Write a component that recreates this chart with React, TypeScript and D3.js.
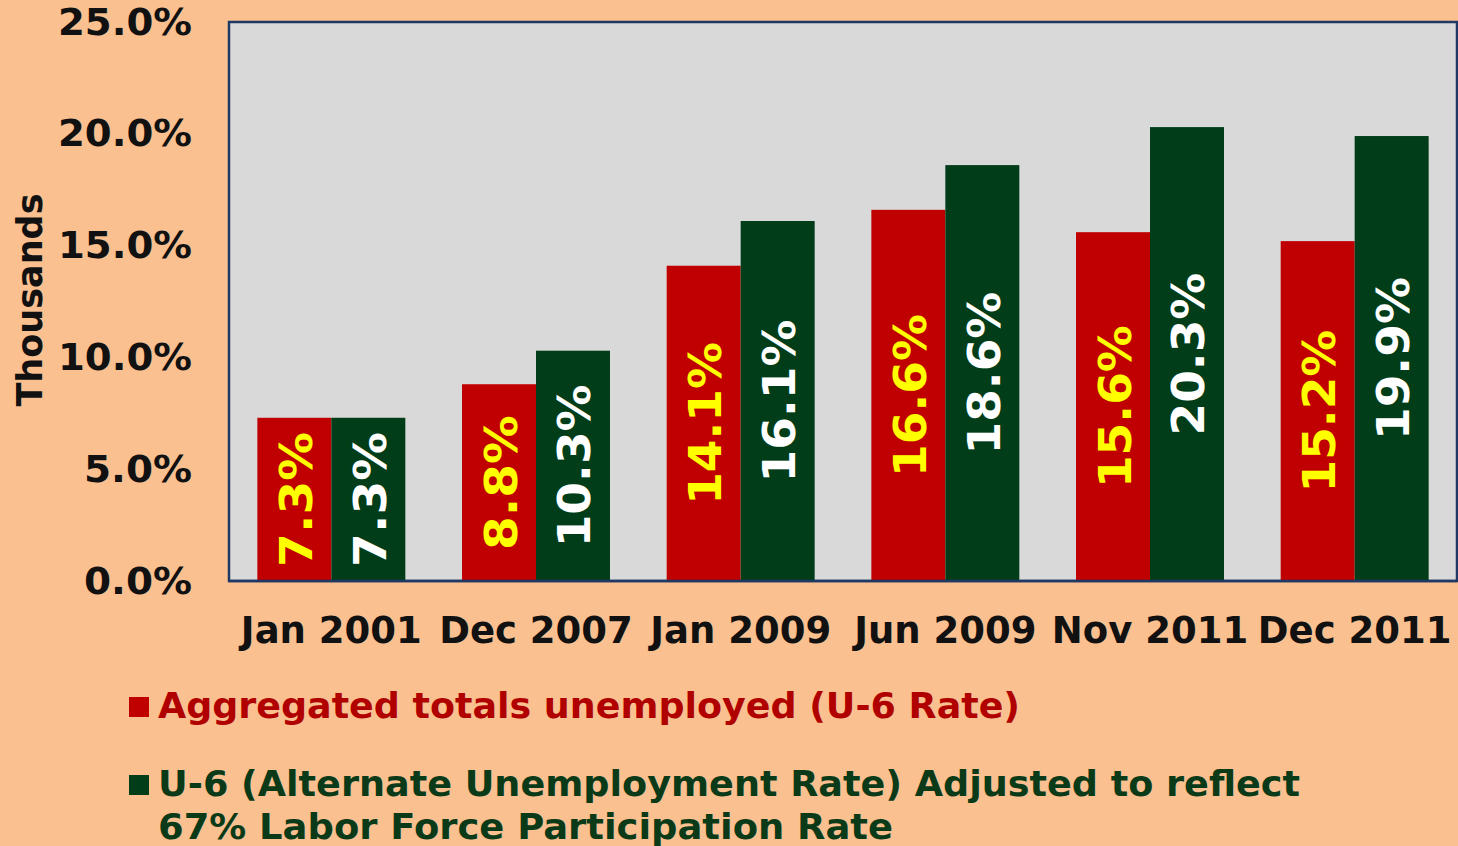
import React from "react";
import * as d3 from "d3";

const categories = ["Jan 2001", "Dec 2007", "Jan 2009", "Jun 2009", "Nov 2011", "Dec 2011"];
const u6Values = [7.3, 8.8, 14.1, 16.6, 15.6, 15.2];
const adjValues = [7.3, 10.3, 16.1, 18.6, 20.3, 19.9];
const yTicks = [0, 5, 10, 15, 20, 25];
const seriesKeys = ["u6", "adj"];
const seriesNames = [
  ["Aggregated totals unemployed (U-6 Rate)"],
  ["U-6 (Alternate Unemployment Rate) Adjusted to reflect", "67% Labor Force Participation Rate"],
];

const W = 1458;
const H = 846;
const FONT = "'DejaVu Sans', Verdana, sans-serif";
const BG = "#FAC090";
const RED = "#C00000";
const GREEN = "#003D18";
const NAVY = "#1F3864";

export default function App() {
  const plot = { left: 229, right: 1457, top: 22, bottom: 581 };
  const y = d3.scaleLinear().domain([0, 25]).range([plot.bottom, plot.top]);
  const x = d3
    .scaleBand<string>()
    .domain(categories)
    .range([plot.left, plot.right])
    .paddingInner(0.277)
    .paddingOuter(0.1385);
  const xs = d3.scaleBand<string>().domain(seriesKeys).range([0, x.bandwidth()]);
  const fmt = (v: number) => d3.format(".1f")(v) + "%";

  const data = categories.map((c, i) => ({ c, vals: [u6Values[i], adjValues[i]] }));
  const fills = [RED, GREEN];
  const labelFills = ["#FFFF00", "#FFFFFF"];
  const legendColors = [RED, GREEN];
  const legendTextColors = ["#B00000", "#0A3A17"];
  const legendLens = [[862], [1142, 735]];
  const legendY = [[718], [796, 839]];

  return (
    <svg
      width={W}
      height={H}
      style={{ position: "absolute", left: 0, top: 0, background: BG }}
      fontFamily={FONT}
      fontWeight="bold"
    >
      <rect x={0} y={0} width={W} height={H} fill={BG} />
      <rect
        x={plot.left}
        y={plot.top}
        width={plot.right - plot.left}
        height={plot.bottom - plot.top}
        fill="#D9D9D9"
        stroke={NAVY}
        strokeWidth={2.5}
      />
      {data.map((d) => (
        <g key={d.c} transform={`translate(${x(d.c)},0)`}>
          {d.vals.map((v, j) => {
            const bx = xs(seriesKeys[j])!;
            const bw = xs.bandwidth();
            const top = y(v);
            const s = fmt(v);
            return (
              <g key={j}>
                <rect x={bx} y={top} width={bw} height={y(0) - top} fill={fills[j]} />
                <text
                  transform={`translate(${bx + bw / 2 + 2},${(top + y(0)) / 2}) rotate(-90)`}
                  textAnchor="middle"
                  dominantBaseline="central"
                  fontSize={45}
                  fill={labelFills[j]}
                  textLength={28 * s.length + 23}
                  lengthAdjust="spacingAndGlyphs"
                >
                  {s}
                </text>
              </g>
            );
          })}
        </g>
      ))}
      <line x1={plot.left} x2={plot.right} y1={plot.bottom} y2={plot.bottom} stroke={NAVY} strokeWidth={2.5} />
      {yTicks.map((t) => {
        const s = fmt(t);
        return (
          <text
            key={t}
            x={192}
            y={y(t)}
            textAnchor="end"
            dominantBaseline="central"
            fontSize={37}
            fill="#111"
            textLength={26 * s.length + 4}
            lengthAdjust="spacingAndGlyphs"
          >
            {s}
          </text>
        );
      })}
      {categories.map((c) => (
        <text
          key={c}
          x={x(c)! + x.bandwidth() / 2}
          y={630}
          textAnchor="middle"
          dominantBaseline="central"
          fontSize={37}
          fill="#111"
        >
          {c}
        </text>
      ))}
      <text
        transform={`translate(30,300) rotate(-90)`}
        textAnchor="middle"
        dominantBaseline="central"
        fontSize={35}
        fill="#111"
      >
        Thousands
      </text>
      {seriesNames.map((lines, i) => (
        <g key={i}>
          <rect x={129} y={legendY[i][0] - 21} width={20} height={20} fill={legendColors[i]} />
          {lines.map((l, k) => (
            <text
              key={k}
              x={158}
              y={legendY[i][k]}
              fontSize={36}
              fill={legendTextColors[i]}
              textLength={legendLens[i][k]}
              lengthAdjust="spacingAndGlyphs"
            >
              {l}
            </text>
          ))}
        </g>
      ))}
    </svg>
  );
}
